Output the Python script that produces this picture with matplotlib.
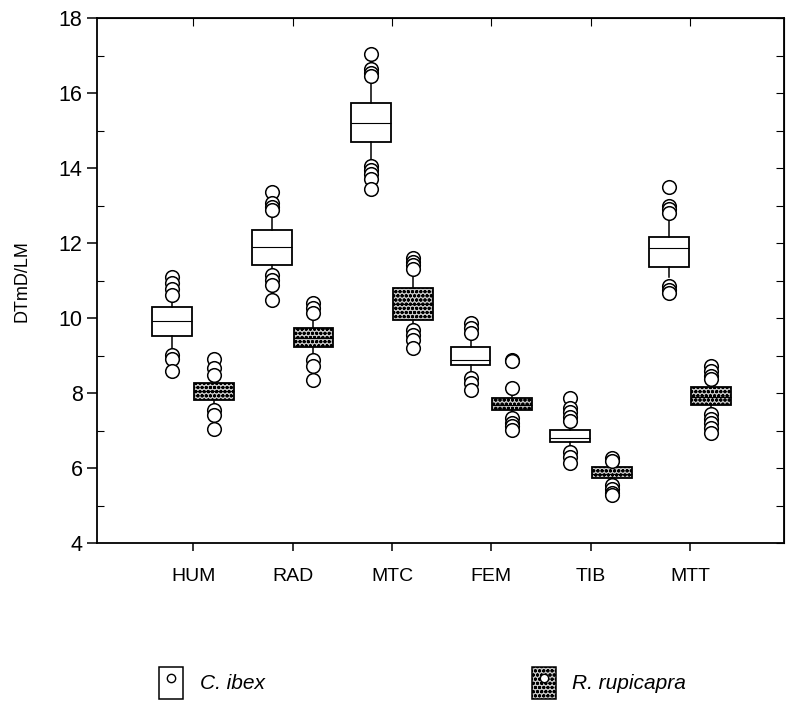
import matplotlib.pyplot as plt
from matplotlib.patches import Patch
from matplotlib.lines import Line2D
import numpy as np

plt.rcParams['font.family'] = ['Liberation Sans', 'DejaVu Sans']
plt.rcParams['hatch.linewidth'] = 1.0

# Bones on the x axis
bones = ['HUM', 'RAD', 'MTC', 'FEM', 'TIB', 'MTT']

# C. ibex box statistics
ibex_q1 = [9.52, 11.41, 14.69, 8.75, 6.69, 11.36]
ibex_med = [9.92, 11.89, 15.20, 8.88, 6.80, 11.87]
ibex_q3 = [10.29, 12.35, 15.73, 9.23, 7.01, 12.16]
ibex_lo = [9.15, 11.25, 14.20, 8.50, 6.55, 11.10]
ibex_hi = [10.45, 12.80, 16.25, 9.45, 7.10, 12.60]
ibex_fliers = [
    [11.10, 10.95, 10.78, 10.62, 9.02, 8.92, 8.60],
    [13.36, 13.07, 12.96, 12.88, 11.15, 11.02, 10.90, 10.48],
    [17.05, 16.65, 16.55, 16.45, 14.05, 13.95, 13.85, 13.70, 13.45],
    [9.88, 9.75, 9.60, 8.40, 8.28, 8.08],
    [7.88, 7.62, 7.50, 7.38, 7.25, 6.43, 6.30, 6.15],
    [13.50, 13.00, 12.90, 12.80, 10.85, 10.75, 10.68],
]

# R. rupicapra box statistics
rup_q1 = [7.81, 9.23, 9.95, 7.55, 5.73, 7.68]
rup_med = [8.05, 9.48, 10.37, 7.70, 5.85, 7.90]
rup_q3 = [8.27, 9.73, 10.80, 7.87, 6.03, 8.16]
rup_lo = [7.65, 9.05, 9.80, 7.45, 5.68, 7.55]
rup_hi = [8.40, 10.00, 11.10, 8.00, 6.10, 8.30]
rup_fliers = [
    [8.92, 8.68, 8.48, 7.55, 7.42, 7.05],
    [10.40, 10.27, 10.13, 8.90, 8.72, 8.35],
    [11.60, 11.50, 11.42, 11.32, 9.70, 9.55, 9.42, 9.22],
    [8.90, 8.85, 8.13, 7.35, 7.22, 7.12, 7.02],
    [6.27, 6.20, 5.55, 5.45, 5.35, 5.28],
    [8.72, 8.60, 8.45, 8.38, 7.45, 7.32, 7.20, 7.08, 6.95],
]


def make_stats(q1, med, q3, lo, hi, fliers):
    return [dict(q1=a, med=b, q3=c, whislo=d, whishi=e, fliers=f)
            for a, b, c, d, e, f in zip(q1, med, q3, lo, hi, fliers)]


fig = plt.figure(figsize=(7.9, 7.01), dpi=100)
ax = fig.add_axes([0.123, 0.225, 0.869, 0.749])

pos = np.arange(1, len(bones) + 1)
flier_style = dict(marker='o', markerfacecolor='white', markeredgecolor='black',
                   markersize=9.8, markeredgewidth=1.1, linestyle='none')

ax.bxp(make_stats(ibex_q1, ibex_med, ibex_q3, ibex_lo, ibex_hi, ibex_fliers),
       positions=pos - 0.21, widths=0.4, patch_artist=True, showcaps=False,
       boxprops=dict(facecolor='white', edgecolor='black', linewidth=1.3),
       medianprops=dict(color='black', linewidth=0.8),
       whiskerprops=dict(color='black', linewidth=1.1),
       flierprops=flier_style, manage_ticks=False)

ax.bxp(make_stats(rup_q1, rup_med, rup_q3, rup_lo, rup_hi, rup_fliers),
       positions=pos + 0.21, widths=0.4, patch_artist=True, showcaps=False,
       boxprops=dict(facecolor='#c8c8c8', edgecolor='black', linewidth=1.3, hatch='oooo'),
       medianprops=dict(color='black', linewidth=0.8),
       whiskerprops=dict(color='black', linewidth=1.1),
       flierprops=flier_style, manage_ticks=False)

ax.set_xlim(0.035, 6.94)
ax.set_ylim(4, 18)
ax.set_xticks(pos)
ax.set_xticklabels(bones, fontsize=14)
ax.set_yticks(np.arange(4, 19, 2))
ax.set_yticks(np.arange(5, 18, 2), minor=True)
ax.tick_params(axis='y', which='major', direction='out', length=7, width=1.1, labelsize=15.5)
ax.tick_params(axis='y', which='minor', direction='in', length=5, width=0.8)
ax.tick_params(axis='x', which='major', direction='out', length=6, width=1.1, pad=12)
ax.set_ylabel('DTmD/LM', fontsize=13, labelpad=20)
for s in ax.spines.values():
    s.set_linewidth(1.3)

# inward ticks on the right and top spines
sec_y = ax.secondary_yaxis('right')
sec_y.set_yticks(np.arange(4, 19, 1))
sec_y.tick_params(direction='in', length=6, labelright=False)
sec_x = ax.secondary_xaxis('top')
sec_x.set_xticks(pos)
sec_x.tick_params(direction='in', length=6, labeltop=False)

handles = [
    (Patch(facecolor='white', edgecolor='black', linewidth=1.1),
     Line2D([], [], marker='o', linestyle='none', markerfacecolor='white',
            markeredgecolor='black', markersize=6)),
    (Patch(facecolor='#c8c8c8', edgecolor='black', linewidth=1.1, hatch='oooo'),
     Line2D([], [], marker='o', linestyle='none', markerfacecolor='white',
            markeredgecolor='black', markersize=6)),
]
fig.legend(handles, ['C. ibex', 'R. rupicapra'], loc='center',
           bbox_to_anchor=(0.535, 0.026), ncol=2, frameon=False,
           prop=dict(style='italic', size=15), handlelength=1.15, handleheight=2.0,
           handletextpad=0.8, columnspacing=12.8)

fig.savefig('out.png', dpi=100, facecolor='white')
